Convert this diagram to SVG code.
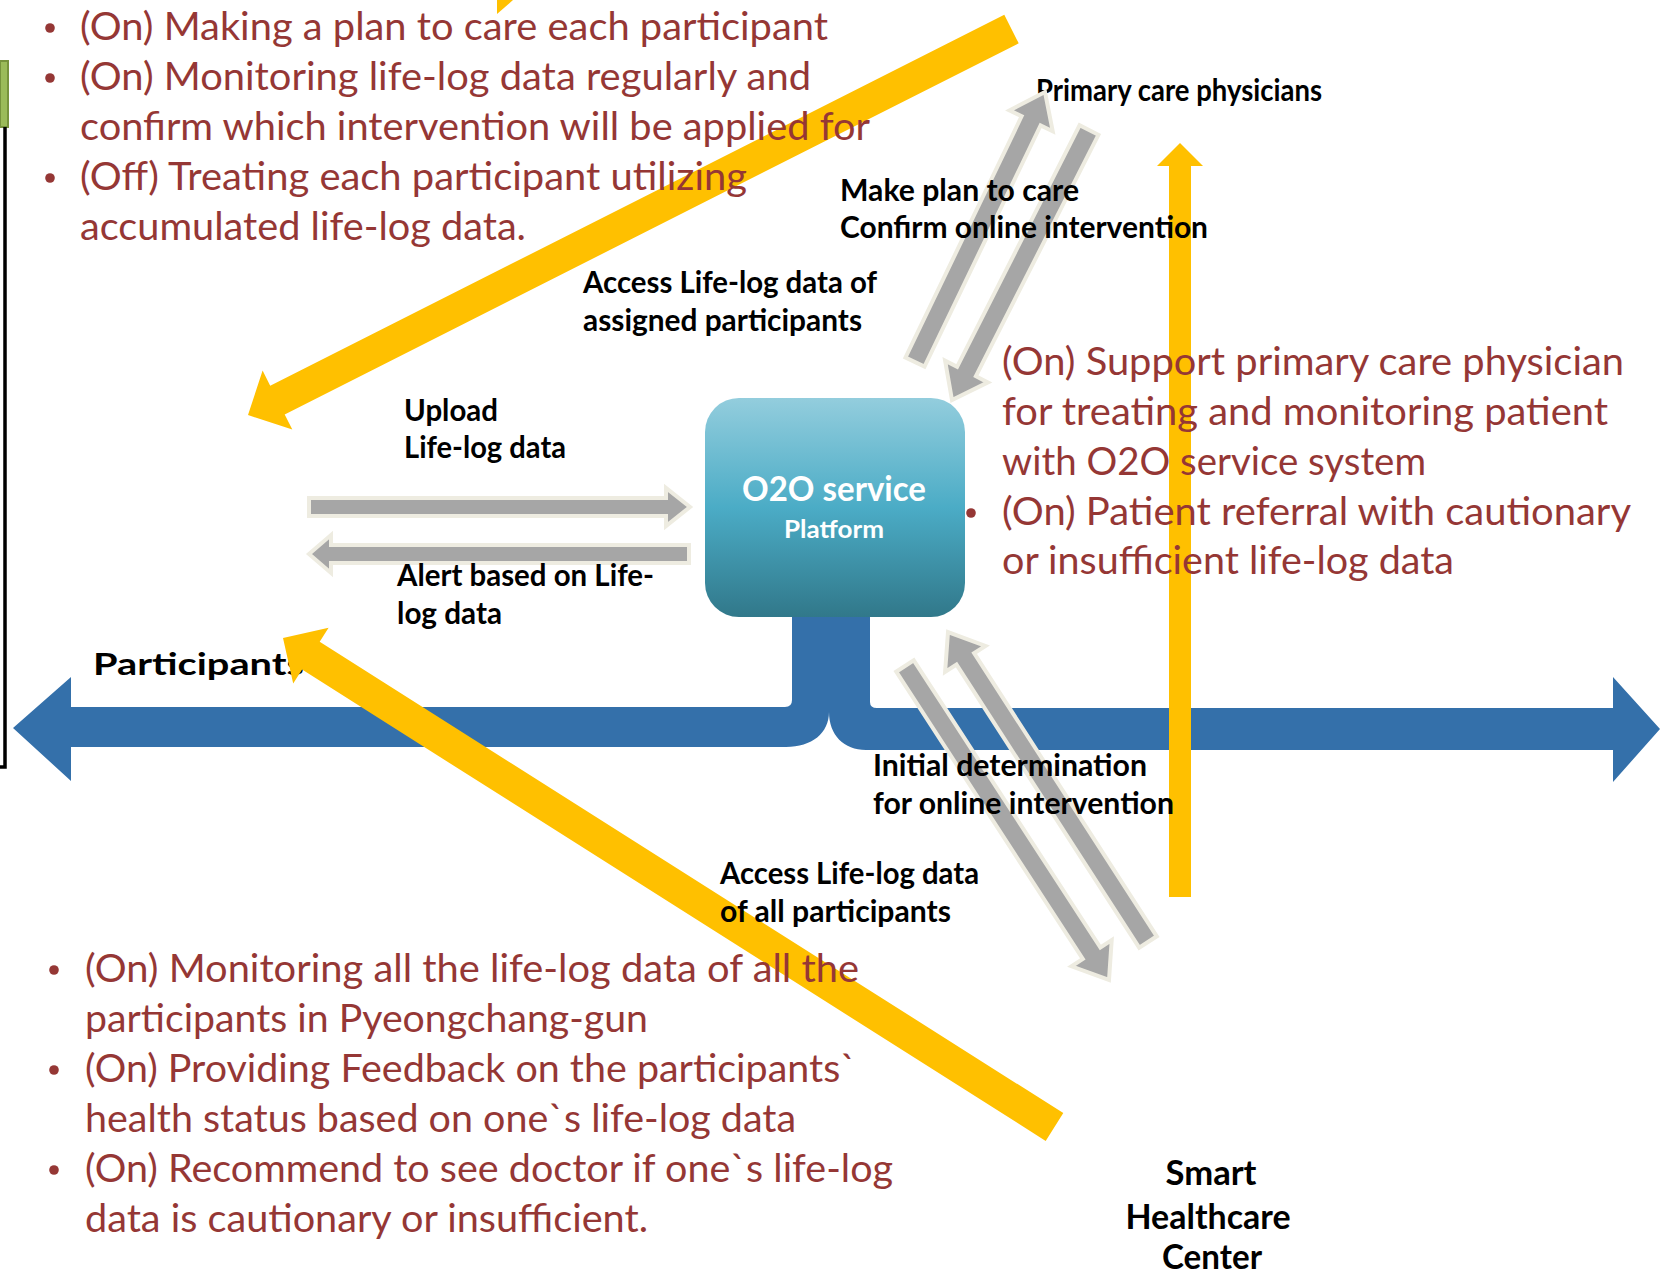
<svg xmlns="http://www.w3.org/2000/svg" width="1661" height="1275" viewBox="0 0 1661 1275">
<defs>
<linearGradient id="boxg" x1="0" y1="0" x2="0" y2="1">
<stop offset="0" stop-color="#93cddd"/>
<stop offset="0.5" stop-color="#4bacc6"/>
<stop offset="1" stop-color="#31788a"/>
</linearGradient>
<style>
.red{font-family:Lato,'Open Sans',sans-serif;font-size:39px;fill:#953735;}
.lbl{font-family:Lato,'Open Sans',sans-serif;font-weight:700;font-size:29.5px;fill:#000;}
.big{font-size:34px;}
.wht{font-family:Lato,'Open Sans',sans-serif;font-weight:700;fill:#fff;}
.gray{fill:#a6a6a6;stroke:#eeece1;stroke-width:4;stroke-linejoin:miter;}
.yel{fill:#ffc000;}
.bus{fill:#3470aa;}
.dot{fill:#953735;}
</style>
</defs>
<rect width="1661" height="1275" fill="#fff"/>

<g id="left-bracket">
<rect x="0" y="61" width="8" height="66" fill="#9bbb59" stroke="#77933c" stroke-width="2"/>
<path d="M5 127 L5 767 L0 767" fill="none" stroke="#000" stroke-width="3.5"/>
</g>

<g id="bus">
<path class="bus" d="M792 600 L792 700 Q792 707 785 707 L71 707 L71 677 L13 728 L71 781 L71 747 L786 747 C812 747 829 733 829 712 L829 600 Z"/>
<path class="bus" d="M870 600 L870 702 Q870 708 877 708 L1613 708 L1613 677 L1660 729 L1613 782 L1613 750 L866 750 C844 750 829 735 829 712 L829 600 Z"/>
</g>

<g id="node-o2o">
<rect x="705" y="398" width="260" height="219" rx="34" ry="34" fill="url(#boxg)"/>
<text class="wht" x="742" y="501" font-size="34" textLength="184" lengthAdjust="spacingAndGlyphs">O2O service</text>
<text class="wht" x="784" y="538" font-size="25.5" textLength="100" lengthAdjust="spacingAndGlyphs">Platform</text>
</g>

<g id="node-participants">
<text class="lbl" x="93" y="675" font-size="42" textLength="211" lengthAdjust="spacingAndGlyphs">Participants</text>
</g>

<g id="node-primary">
<text class="lbl" x="1036" y="101" font-size="27" textLength="286" lengthAdjust="spacingAndGlyphs">Primary care physicians</text>
</g>

<g id="yellow-arrows">
<polygon class="yel" points="1004.3,14.7 1018.7,43.3 284.7,414.4 292.3,429.6 248,415 262.6,370.6 270.2,385.8"/>
<polygon class="yel" points="1063.3,1113.1 1045.7,1140.9 302.1,669.6 293.2,683.6 283,638 328.6,627.8 319.7,641.8"/>
<polygon class="yel" points="1169,897 1191,897 1191,166 1203,166 1180,143 1157,166 1169,166"/>
<polygon class="yel" points="497,0 513,0 497,14"/>
</g>

<g id="text-top-left">
<circle class="dot" cx="50" cy="28" r="4.8"/>
<circle class="dot" cx="50" cy="78" r="4.8"/>
<circle class="dot" cx="50" cy="178" r="4.8"/>
<text class="red" x="80" y="40" textLength="748" lengthAdjust="spacingAndGlyphs">(On) Making a plan to care each participant</text>
<text class="red" x="80" y="90" textLength="731" lengthAdjust="spacingAndGlyphs">(On) Monitoring life-log data regularly and</text>
<text class="red" x="80" y="140" textLength="790" lengthAdjust="spacingAndGlyphs">confirm which intervention will be applied for</text>
<text class="red" x="80" y="190" textLength="667" lengthAdjust="spacingAndGlyphs">(Off) Treating each participant utilizing</text>
<text class="red" x="80" y="240" textLength="446" lengthAdjust="spacingAndGlyphs">accumulated life-log data.</text>
</g>

<g id="text-right">
<circle class="dot" cx="971" cy="363" r="4.8"/>
<circle class="dot" cx="971" cy="513" r="4.8"/>
<text class="red" x="1002" y="375" textLength="622" lengthAdjust="spacingAndGlyphs">(On) Support primary care physician</text>
<text class="red" x="1002" y="425" textLength="606" lengthAdjust="spacingAndGlyphs">for treating and monitoring patient</text>
<text class="red" x="1002" y="475" textLength="424" lengthAdjust="spacingAndGlyphs">with O2O service system</text>
<text class="red" x="1002" y="525" textLength="629" lengthAdjust="spacingAndGlyphs">(On) Patient referral with cautionary</text>
<text class="red" x="1002" y="574" textLength="452" lengthAdjust="spacingAndGlyphs">or insufficient life-log data</text>
</g>

<g id="text-bottom-left">
<circle class="dot" cx="54" cy="970" r="4.8"/>
<circle class="dot" cx="54" cy="1070" r="4.8"/>
<circle class="dot" cx="54" cy="1170" r="4.8"/>
<text class="red" x="85" y="982" textLength="774" lengthAdjust="spacingAndGlyphs">(On) Monitoring all the life-log data of all the</text>
<text class="red" x="85" y="1032" textLength="563" lengthAdjust="spacingAndGlyphs">participants in Pyeongchang-gun</text>
<text class="red" x="85" y="1082" textLength="771" lengthAdjust="spacingAndGlyphs">(On) Providing Feedback on the participants`</text>
<text class="red" x="85" y="1132" textLength="711" lengthAdjust="spacingAndGlyphs">health status based on one`s life-log data</text>
<text class="red" x="85" y="1182" textLength="808" lengthAdjust="spacingAndGlyphs">(On) Recommend to see doctor if one`s life-log</text>
<text class="red" x="85" y="1232" textLength="563" lengthAdjust="spacingAndGlyphs">data is cautionary or insufficient.</text>
</g>

<g id="connectors">
<polygon class="gray" points="309,498 666,498 666,488 690,507 666,526 666,516 309,516"/>
<polygon class="gray" points="689,545 331,545 331,535 309,554 331,573 331,563 689,563"/>
<polygon class="gray" points="924.5,366.6 1040.6,125.4 1052.7,131.2 1045,92 1009.5,110.4 1021.6,116.3 905.5,357.5"/>
<polygon class="gray" points="1098.4,134.8 975.9,376.2 987.9,382.4 952,400 945.1,360.6 957.1,366.8 1079.6,125.3"/>
<polygon class="gray" points="913.8,660.3 1100.4,947.5 1111.7,940.1 1109,980 1071.5,966.3 1082.8,958.9 896.2,671.7"/>
<polygon class="gray" points="1156.8,936.3 974.1,653.2 985.5,645.9 948,632 945.1,671.9 956.5,664.6 1139.2,947.7"/>
</g>

<g id="labels">
<text class="lbl" x="840" y="201" textLength="239" lengthAdjust="spacingAndGlyphs">Make plan to care</text>
<text class="lbl" x="840" y="238" textLength="368" lengthAdjust="spacingAndGlyphs">Confirm online intervention</text>
<text class="lbl" x="583" y="293" textLength="294" lengthAdjust="spacingAndGlyphs">Access Life-log data of</text>
<text class="lbl" x="583" y="331" textLength="279" lengthAdjust="spacingAndGlyphs">assigned participants</text>
<text class="lbl" x="404" y="421" textLength="94" lengthAdjust="spacingAndGlyphs">Upload</text>
<text class="lbl" x="404" y="458" textLength="162" lengthAdjust="spacingAndGlyphs">Life-log data</text>
<text class="lbl" x="397" y="586" textLength="257" lengthAdjust="spacingAndGlyphs">Alert based on Life-</text>
<text class="lbl" x="397" y="624" textLength="105" lengthAdjust="spacingAndGlyphs">log data</text>
<text class="lbl" x="873" y="776" textLength="274" lengthAdjust="spacingAndGlyphs">Initial determination</text>
<text class="lbl" x="873" y="814" textLength="301" lengthAdjust="spacingAndGlyphs">for online intervention</text>
<text class="lbl" x="720" y="884" textLength="259" lengthAdjust="spacingAndGlyphs">Access Life-log data</text>
<text class="lbl" x="720" y="922" textLength="231" lengthAdjust="spacingAndGlyphs">of all participants</text>
</g>

<g id="node-smart">
<text class="lbl big" x="1211" y="1185" text-anchor="middle" textLength="91" lengthAdjust="spacingAndGlyphs">Smart</text>
<text class="lbl big" x="1208" y="1229" text-anchor="middle" textLength="165" lengthAdjust="spacingAndGlyphs">Healthcare</text>
<text class="lbl big" x="1212" y="1269" text-anchor="middle" textLength="100" lengthAdjust="spacingAndGlyphs">Center</text>
</g>
</svg>
